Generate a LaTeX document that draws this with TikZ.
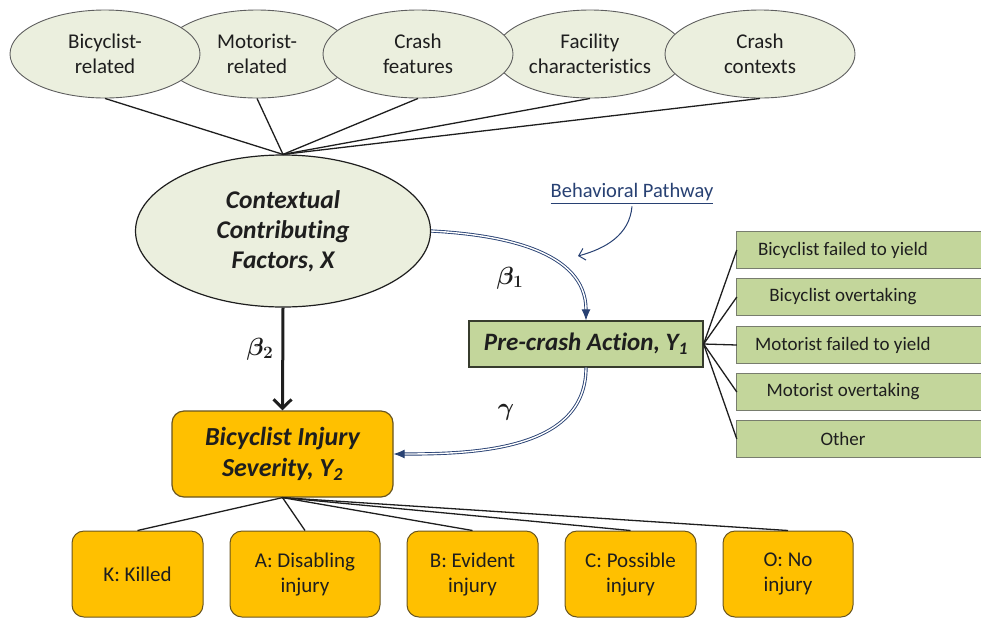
\documentclass[tikz,border=0pt]{standalone}
\usepackage{fontspec}
\setmainfont{Carlito}[Ligatures=NoCommon]
\usepackage{amsmath,bm}
\usetikzlibrary{shapes.geometric,arrows.meta}

\definecolor{ovalfill}{RGB}{235,239,222}
\definecolor{ovaledge}{RGB}{95,95,95}
\definecolor{greenfill}{RGB}{195,214,155}
\definecolor{greenedge}{RGB}{55,60,45}
\definecolor{listedge}{RGB}{120,125,110}
\definecolor{orangefill}{RGB}{255,192,0}
\definecolor{orangeedge}{RGB}{105,85,30}
\definecolor{pathblue}{RGB}{40,65,115}
\definecolor{ink}{RGB}{30,30,30}

\begin{document}
\begin{tikzpicture}[x=1pt,y=-1pt,
  every node/.style={text=ink},
  oval/.style={ellipse, draw=ovaledge, fill=ovalfill, line width=0.9pt,
    minimum width=190pt, minimum height=88pt, inner sep=0pt, align=center,
    font=\fontsize{21}{25}\selectfont},
  bigoval/.style={ellipse, draw=ink, fill=ovalfill, line width=1.2pt,
    minimum width=295pt, minimum height=152pt, inner sep=0pt, align=center,
    font=\fontsize{25.5}{30}\selectfont\bfseries\itshape},
  actionbox/.style={rectangle, draw=greenedge, fill=greenfill, line width=1.2pt,
    minimum width=234pt, minimum height=46pt, inner sep=0pt,
    font=\fontsize{25}{28}\selectfont\bfseries\itshape},
  listbox/.style={rectangle, minimum width=212pt, minimum height=37pt, inner sep=0pt,
    font=\fontsize{19}{23}\selectfont},
  listfill/.style={draw=listedge, fill=greenfill, line width=1pt},
  sevbox/.style={rectangle, rounded corners=12pt, draw=orangeedge, fill=orangefill,
    line width=1.2pt, minimum width=221pt, minimum height=86pt, inner sep=0pt,
    align=center, font=\fontsize{26}{31}\selectfont\bfseries\itshape},
  levelbox/.style={rectangle, rounded corners=12pt, draw=orangeedge, fill=orangefill,
    line width=1pt, minimum width=131pt, minimum height=86pt, inner sep=0pt,
    align=center, font=\fontsize{21}{25}\selectfont},
  link/.style={draw=ink, line width=1.3pt},
  path/.style={draw=pathblue, double=white, double distance=1.4pt, line width=0.9pt,
    -{Latex[length=11pt,width=9pt,fill=pathblue]}},
  coef/.style={font=\fontsize{25}{28}\selectfont}
]
\clip (0,0) rectangle (981,619);

% contextual factor groups (back row first, then front row)
\node[oval] (mot) at (257,54) {Motorist-\\related};
\node[oval] (fac) at (590,54) {Facility\\characteristics};
\node[oval] (bic) at (105,54) {Bicyclist-\\related};
\node[oval] (cft) at (418,54) {Crash\\features};
\node[oval] (ctxs) at (760,54) {Crash\\contexts};

% central latent factor
\node[bigoval] (ctx) at (283,231) {Contextual\\Contributing\\Factors, X};

\foreach \g in {bic,mot,cft,fac,ctxs}
  \draw[link] (\g.south) -- (ctx.north);

% pre-crash action and its categories
\node[actionbox] (pre) at (586,344) {Pre-crash Action, Y\textsubscript{1}};

\foreach \i/\y/\t in {1/250/Bicyclist failed to yield,
                      2/297/Bicyclist overtaking,
                      3/345/Motorist failed to yield,
                      4/392/Motorist overtaking,
                      5/439/Other}{
  \node[listbox] (r\i) at (843,\y) {};
  \path[listfill] (r\i.north west) rectangle ([xshift=60pt]r\i.south east);
  \node[listbox] at (r\i) {\t};
  \draw[link] (pre.east) -- (r\i.west);
}

% injury severity and its levels
\node[sevbox] (sev) at (282.5,454) {Bicyclist Injury\\Severity, Y\textsubscript{2}};

\node[levelbox] (k) at (137.5,574) {K: Killed};
\node[levelbox, minimum width=150pt] (a) at (305,574) {A: Disabling\\injury};
\node[levelbox] (b) at (472.5,574) {B: Evident\\injury};
\node[levelbox] (c) at (630.5,574) {C: Possible\\injury};
\node[levelbox, minimum width=130pt] (o) at (788,574) {O: No\\injury};

\foreach \l in {k,a,b,c,o}
  \draw[link] (sev.south) -- (\l.north);

% direct effect
\draw[ink, line width=3pt, -{Straight Barb[length=9pt,width=18pt,line width=3pt]}]
  (ctx.south) -- (sev.north);
\node[coef] (b2) at (260,349) {$\bm{\beta_2}$};

% behavioral pathway
\draw[path] (ctx.east) to[out=-3, in=90] (pre.north);
\draw[path] (pre.south) to[out=-90, in=0] (sev.east);
\node[coef] (b1) at (510,278) {$\bm{\beta_1}$};
\node[coef] (gm) at (506,412) {$\bm{\gamma}$};

\node[text=pathblue, font=\fontsize{20.5}{24}\selectfont] (behav) at (632,194)
  {\underline{Behavioral Pathway}};
\coordinate (bpend) at (578,256);
\draw[pathblue, line width=1pt, -{Straight Barb[length=6pt,width=12pt]}]
  ([yshift=2pt]behav.south) to[out=-95, in=15] (bpend);
\end{tikzpicture}
\end{document}
